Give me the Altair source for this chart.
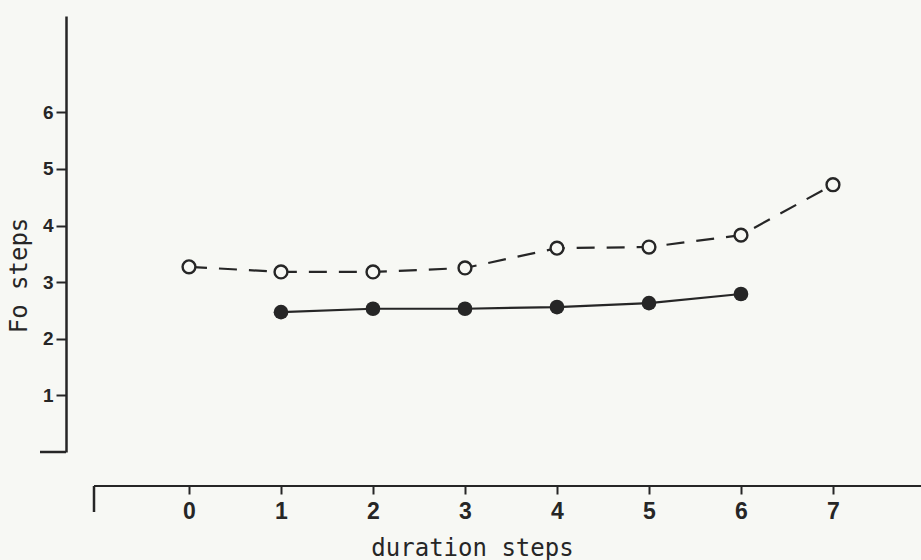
import altair as alt
import pandas as pd

# ---- data ----
open_duration = [0, 1, 2, 3, 4, 5, 6, 7]
open_fo = [3.27, 3.18, 3.18, 3.25, 3.60, 3.62, 3.83, 4.72]
filled_duration = [1, 2, 3, 4, 5, 6]
filled_fo = [2.47, 2.53, 2.53, 2.56, 2.63, 2.79]
x_ticks = [0, 1, 2, 3, 4, 5, 6, 7]
y_ticks = [1, 2, 3, 4, 5, 6]

ink = "#262626"
paper = "#f7f8f4"

open_df = pd.DataFrame({"duration": open_duration, "fo": open_fo})
filled_df = pd.DataFrame({"duration": filled_duration, "fo": filled_fo})
one = pd.DataFrame({"k": [0]})

W, H = 855, 436

xs = alt.Scale(domain=[-1.337, 7.957], nice=False, zero=False)
ys = alt.Scale(domain=[0, 7.7], nice=False, zero=False)

x_axis = alt.Axis(
    values=x_ticks, format="d", title="duration steps", domain=False, offset=34,
    grid=False, tickSize=8, tickWidth=2, tickColor=ink,
    labelFont="Liberation Sans", labelFontSize=23, labelFontWeight="bold",
    labelColor=ink, labelPadding=6,
    titleFont="DejaVu Sans Mono", titleFontSize=24, titleFontWeight="normal",
    titleColor=ink, titleX=406, titleY=69, titleAlign="center",
    titleBaseline="alphabetic",
)
y_axis = alt.Axis(
    values=y_ticks, format="d", title="Fo steps", grid=False,
    domainWidth=2.5, domainColor=ink, tickSize=10, tickWidth=2, tickColor=ink,
    labelFont="Liberation Sans", labelFontSize=19, labelFontWeight="bold",
    labelColor=ink, labelPadding=3,
    titleFont="DejaVu Sans Mono", titleFontSize=24, titleFontWeight="normal",
    titleColor=ink, titleX=-40, titleY=259, titleAngle=270, titleAlign="center",
    titleBaseline="alphabetic",
)

X = alt.X("duration:Q", scale=xs, axis=x_axis)
Y = alt.Y("fo:Q", scale=ys, axis=y_axis)

open_line = alt.Chart(open_df).mark_line(
    color=ink, strokeWidth=2.2, strokeDash=[18, 12]
).encode(x=X, y=Y)
filled_line = alt.Chart(filled_df).mark_line(color=ink, strokeWidth=2.2).encode(
    x=alt.X("duration:Q", scale=xs), y=alt.Y("fo:Q", scale=ys)
)
open_pts = alt.Chart(open_df).mark_point(
    shape="circle", filled=True, fill=paper, stroke=ink, strokeWidth=2.4,
    size=165, opacity=1
).encode(x=alt.X("duration:Q", scale=xs), y=alt.Y("fo:Q", scale=ys))
filled_pts = alt.Chart(filled_df).mark_circle(size=215, color=ink, opacity=1).encode(
    x=alt.X("duration:Q", scale=xs), y=alt.Y("fo:Q", scale=ys)
)

# axis decorations of the original drawing
y_foot = alt.Chart(one).mark_rule(color=ink, strokeWidth=2.5).encode(
    x=alt.value(-26), x2=alt.value(0), y=alt.value(H)
)
x_line = alt.Chart(one).mark_rule(color=ink, strokeWidth=2).encode(
    x=alt.value(28), x2=alt.value(W), y=alt.value(H + 34)
)
x_corner = alt.Chart(one).mark_rule(color=ink, strokeWidth=2.5).encode(
    x=alt.value(28), y=alt.value(H + 34), y2=alt.value(H + 60)
)

chart = alt.layer(
    open_line, filled_line, open_pts, filled_pts, y_foot, x_line, x_corner
).properties(
    width=W, height=H, background=paper,
    autosize=alt.AutoSizeParams(type="none"),
    padding={"left": 66, "top": 16, "right": 0, "bottom": 108},
).configure_view(stroke=None)

chart.save("out.html", embed_options={"renderer": "svg", "actions": False})
